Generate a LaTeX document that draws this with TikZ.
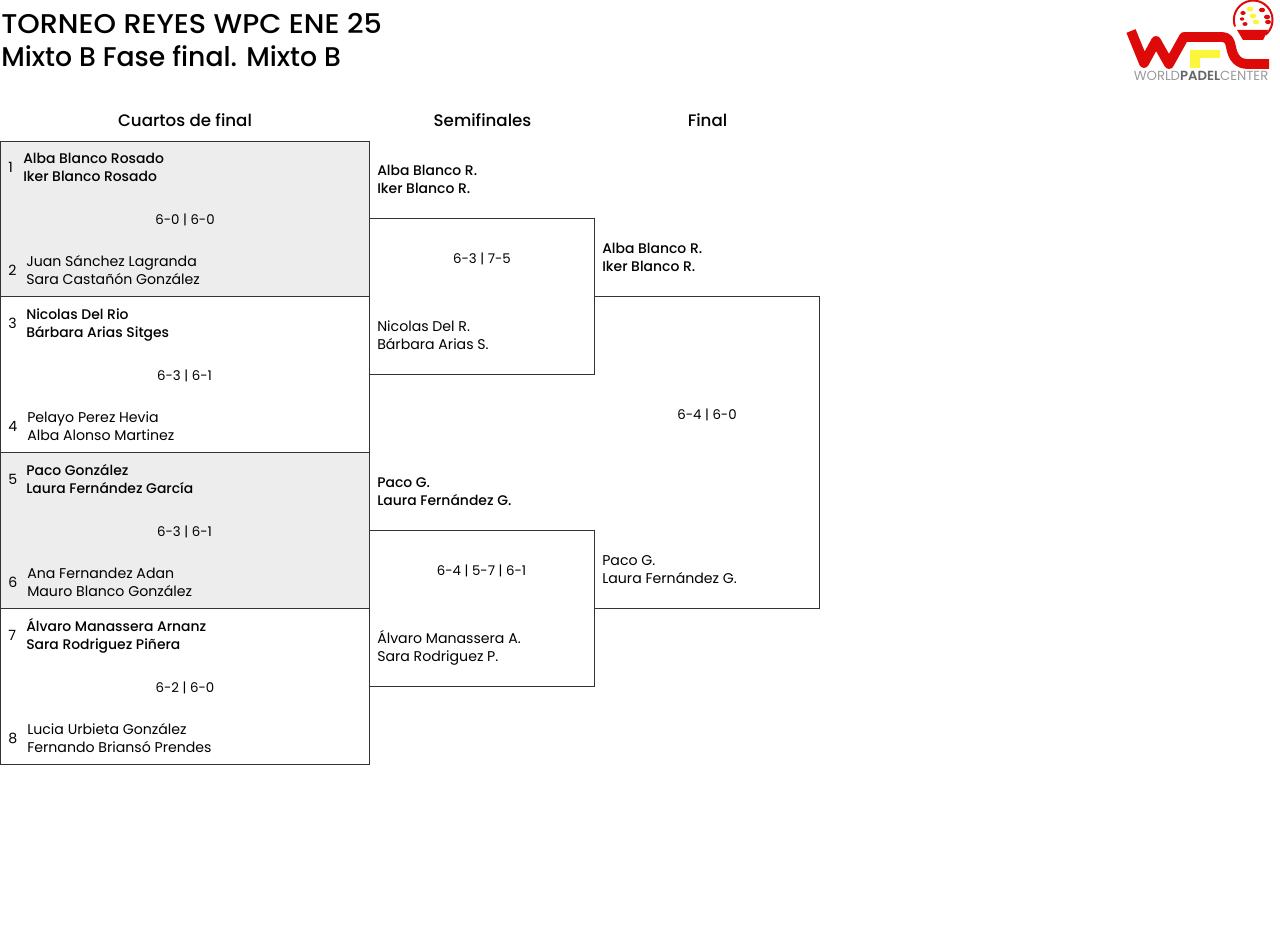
\documentclass[tikz,border=0pt]{standalone}
\usepackage{fontspec}
\usepackage{graphicx}
\setmainfont{Poppins}[BoldFont=Poppins Medium]
\newfontfamily\semifont{Poppins SemiBold}
\definecolor{wred}{HTML}{DE0A0A}
\definecolor{wyel}{HTML}{FBF53C}
\definecolor{wgray}{HTML}{9A9A9A}
\tikzset{
  x=0.75pt,y=-0.75pt,
  t/.style={anchor=base west,inner sep=0pt,font=\fontsize{10.6pt}{13pt}\selectfont},
  w/.style={t,font=\fontsize{10.45pt}{13pt}\selectfont\bfseries},
  sc/.style={anchor=base,inner sep=0pt,font=\fontsize{10pt}{13pt}\selectfont},
  hd/.style={anchor=base,inner sep=0pt,font=\fontsize{12.5pt}{16pt}\selectfont\bfseries},
  ti/.style={anchor=base west,inner sep=0pt,font=\fontsize{20.3pt}{24pt}\selectfont\bfseries},
  frame/.style={anchor=north west,inner sep=0pt,outer sep=0pt},
  box/.style={frame,draw=black!80,line width=0.75pt},
  shade/.style={box,fill=black!7},
  rule/.style={draw=black!80,line width=0.75pt},
}
\begin{document}
\begin{tikzpicture}
\useasboundingbox (0,0) rectangle (1280,949);
\node[ti] (title1) at (1,34) {\scalebox{1.058}[1]{TORNEO REYES WPC ENE 25}};
\node[ti] (title2) at (1,67) {\scalebox{0.986}[1]{Mixto B Fase final. Mixto B}};
\node[hd] (h1) at (185,126) {Cuartos de final};
\node[hd] (h2) at (482.5,126) {Semifinales};
\node[hd] (h3) at (707.5,126) {Final};
% boxes
\node[shade,minimum width=276.75pt,minimum height=116.25pt] (q1) at (0.5,141.5) {};
\node[box,minimum width=276.75pt,minimum height=117pt] (q2) at (0.5,296.5) {};
\node[shade,minimum width=276.75pt,minimum height=117pt] (q3) at (0.5,452.5) {};
\node[box,minimum width=276.75pt,minimum height=117pt] (q4) at (0.5,608.5) {};
\node[box,minimum width=168.75pt,minimum height=117pt] (s1) at (369.5,218.5) {};
\node[box,minimum width=168.75pt,minimum height=117pt] (s2) at (369.5,530.5) {};
\node[frame,minimum width=168.75pt,minimum height=234pt] (f1) at (594.5,296.5) {};
\draw[rule] (f1.north west) -- (f1.north east) -- (f1.south east) -- (f1.south west);
% quarter finals
\node[t] (n1) at (8,172) {1};
\node[w] (a1) at (23,163) {Alba Blanco Rosado};
\node[w] (a2) at (23,181) {Iker Blanco Rosado};
\node[sc] (r1) at (185,224) {6-0 | 6-0};
\node[t] (n2) at (8,275) {2};
\node[t] (a3) at (26,266) {Juan Sánchez Lagranda};
\node[t] (a4) at (26,284) {Sara Castañón González};
\node[t] (n3) at (8,328) {3};
\node[w] (b1) at (26,319) {Nicolas Del Rio};
\node[w] (b2) at (26,337) {Bárbara Arias Sitges};
\node[sc] (r2) at (184.5,380) {6-3 | 6-1};
\node[t] (n4) at (8,431) {4};
\node[t] (b3) at (27,422) {Pelayo Perez Hevia};
\node[t] (b4) at (27,440) {Alba Alonso Martinez};
\node[t] (n5) at (8,484) {5};
\node[w] (c1) at (26,475) {Paco González};
\node[w] (c2) at (26,493) {Laura Fernández García};
\node[sc] (r3) at (184.5,536) {6-3 | 6-1};
\node[t] (n6) at (8,587) {6};
\node[t] (c3) at (27,578) {Ana Fernandez Adan};
\node[t] (c4) at (27,596) {Mauro Blanco González};
\node[t] (n7) at (8,640) {7};
\node[w] (d1) at (26,631) {Álvaro Manassera Arnanz};
\node[w] (d2) at (26,649) {Sara Rodriguez Piñera};
\node[sc] (r4) at (185,692) {6-2 | 6-0};
\node[t] (n8) at (8,743) {8};
\node[t] (d3) at (27,734) {Lucia Urbieta González};
\node[t] (d4) at (27,752) {Fernando Briansó Prendes};
% semis
\node[w] (e1) at (377,175) {Alba Blanco R.};
\node[w] (e2) at (377,193) {Iker Blanco R.};
\node[sc] (r5) at (482,263) {6-3 | 7-5};
\node[t] (e3) at (377,331) {Nicolas Del R.};
\node[t] (e4) at (377,349) {Bárbara Arias S.};
\node[w] (g1) at (377,487) {Paco G.};
\node[w] (g2) at (377,505) {Laura Fernández G.};
\node[sc] (r6) at (481.5,575) {6-4 | 5-7 | 6-1};
\node[t] (g3) at (377,643) {Álvaro Manassera A.};
\node[t] (g4) at (377,661) {Sara Rodriguez P.};
% final
\node[w] (h4) at (602,253) {Alba Blanco R.};
\node[w] (h5) at (602,271) {Iker Blanco R.};
\node[sc] (r7) at (707,419) {6-4 | 6-0};
\node[t] (h6) at (602,565) {Paco G.};
\node[t] (h7) at (602,583) {Laura Fernández G.};
% logo
\fill[wyel] (1190,50) -- (1220,50) -- (1220,58) -- (1200,58) -- (1200,68) -- (1190,68) -- cycle;
\draw[wred,line width=7.4pt,line join=round] (1131,31) -- (1144,63) -- (1156,41) -- (1169,64) -- (1184,37) -- (1222,37) .. controls (1228,37) and (1230,41) .. (1231,47) .. controls (1233,58) and (1238,64) .. (1248,64) -- (1269,64);
\fill[wred] (1237,30) -- (1268,30) -- (1263,40) -- (1243,40) -- cycle;
\draw[wred,line width=1.5pt] (1235,26.5) arc[start angle=200,end angle=-50,radius=14.5pt];
\foreach \p/\c/\r in {{1250,9}/wyel/2.5,{1262,10}/wred/2.3,{1243,13}/wred/2,{1253,16}/wyel/2.5,{1267,17}/wred/2.3,{1242,19}/wred/1.7,{1245,24}/wred/1.9,{1256,22}/wyel/2.4,{1268,22}/wred/2.2}{
  \fill[\c] (\p) ellipse[x radius=\r pt,y radius=0.75*\r pt];
}
\node[anchor=base,inner sep=0pt,text=wgray,font=\fontsize{9.9pt}{10pt}\selectfont] (lg) at (1201,80.5) {WORLD{\semifont\color{black!60}PADEL}CENTER};
\end{tikzpicture}
\end{document}
